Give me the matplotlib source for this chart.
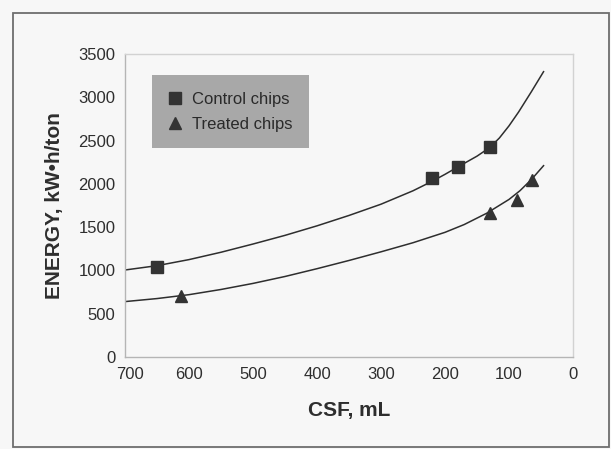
import matplotlib
matplotlib.use("Agg")
import matplotlib.pyplot as plt
from matplotlib import font_manager
from matplotlib.patches import Rectangle
import matplotlib.transforms as mtransforms

# measured points
control_csf = [650, 220, 180, 130]
control_energy = [1040, 2070, 2195, 2420]
treated_csf = [612, 130, 88, 64]
treated_energy = [700, 1660, 1810, 2050]

# fitted curves
control_curve_csf = [700, 650, 600, 550, 500, 450, 400, 350, 300, 250, 220, 200, 180, 150, 130, 115, 100, 85, 65, 46]
control_curve_energy = [1005, 1055, 1125, 1210, 1305, 1405, 1515, 1635, 1765, 1920, 2030, 2110, 2195, 2320, 2420, 2530, 2670, 2830, 3065, 3296]
treated_curve_csf = [700, 650, 600, 550, 500, 450, 400, 350, 300, 250, 200, 170, 135, 100, 83, 65, 46]
treated_curve_energy = [640, 675, 720, 780, 850, 930, 1020, 1115, 1215, 1320, 1440, 1530, 1660, 1820, 1920, 2050, 2210]

x_ticks = [700, 600, 500, 400, 300, 200, 100, 0]
y_ticks = [0, 500, 1000, 1500, 2000, 2500, 3000, 3500]

names = {f.name for f in font_manager.fontManager.ttflist}
narrow = 'Liberation Sans Narrow' if 'Liberation Sans Narrow' in names else 'Liberation Sans'
tick_size = 14 if narrow == 'Liberation Sans Narrow' else 12
txt = '#2e2e2e'

fig = plt.figure(figsize=(6.11, 4.49), dpi=100, facecolor='#f7f7f7')
fig.patches.append(Rectangle((13/611, 1-447/449), 596/611, 434/449, transform=fig.transFigure,
                             fill=False, edgecolor='#6e6e6e', lw=1.3))
ax = fig.add_axes([125/611, 1-357/449, 448/611, 303/449])
ax.set_facecolor('#f7f7f7')

ax.plot(control_curve_csf, control_curve_energy, color='#2e2e2e', lw=1.1)
ax.plot(treated_curve_csf, treated_curve_energy, color='#2e2e2e', lw=1.1)
ax.plot(control_csf, control_energy, ls='none', marker='s', ms=8.5, color='#333333', label='Control chips')
ax.plot(treated_csf, treated_energy, ls='none', marker='^', ms=8.5, color='#333333', label='Treated chips')

ax.set_xlim(700, 0)
ax.set_ylim(0, 3500)
ax.set_xticks(x_ticks)
ax.set_yticks(y_ticks)
ax.tick_params(length=0, pad=7, labelcolor=txt)
for lab in ax.get_xticklabels() + ax.get_yticklabels():
    lab.set_fontfamily(narrow)
    lab.set_fontsize(tick_size)
# excel style shift of first x label
first = ax.get_xticklabels()[0]
first.set_transform(first.get_transform() + mtransforms.ScaledTranslation(5/100, 0, fig.dpi_scale_trans))

for s in ['left', 'bottom']:
    ax.spines[s].set_color('#b5b5b5')
for s in ['top', 'right']:
    ax.spines[s].set_color('#d2d2d2')
for s in ax.spines.values():
    s.set_linewidth(1.0)

ax.set_xlabel('CSF, mL', fontfamily='Liberation Sans', fontweight='bold', fontsize=15, color=txt, labelpad=14)
ax.set_ylabel('ENERGY, kW\u2022h/ton', fontfamily=['Liberation Sans', 'DejaVu Sans'], fontweight='bold',
              fontsize=15, color=txt, labelpad=10)

leg = ax.legend(loc='upper left', bbox_to_anchor=(0.06, 0.931), borderaxespad=0, frameon=True,
                fancybox=False, facecolor='#a8a8a8', edgecolor='none', framealpha=1,
                prop={'family': 'Liberation Sans', 'size': 12}, labelcolor='#2a2a2a',
                handlelength=0.8, handletextpad=0.6, borderpad=1.0, labelspacing=0.6)

fig.savefig('out.png', dpi=100, facecolor=fig.get_facecolor())
